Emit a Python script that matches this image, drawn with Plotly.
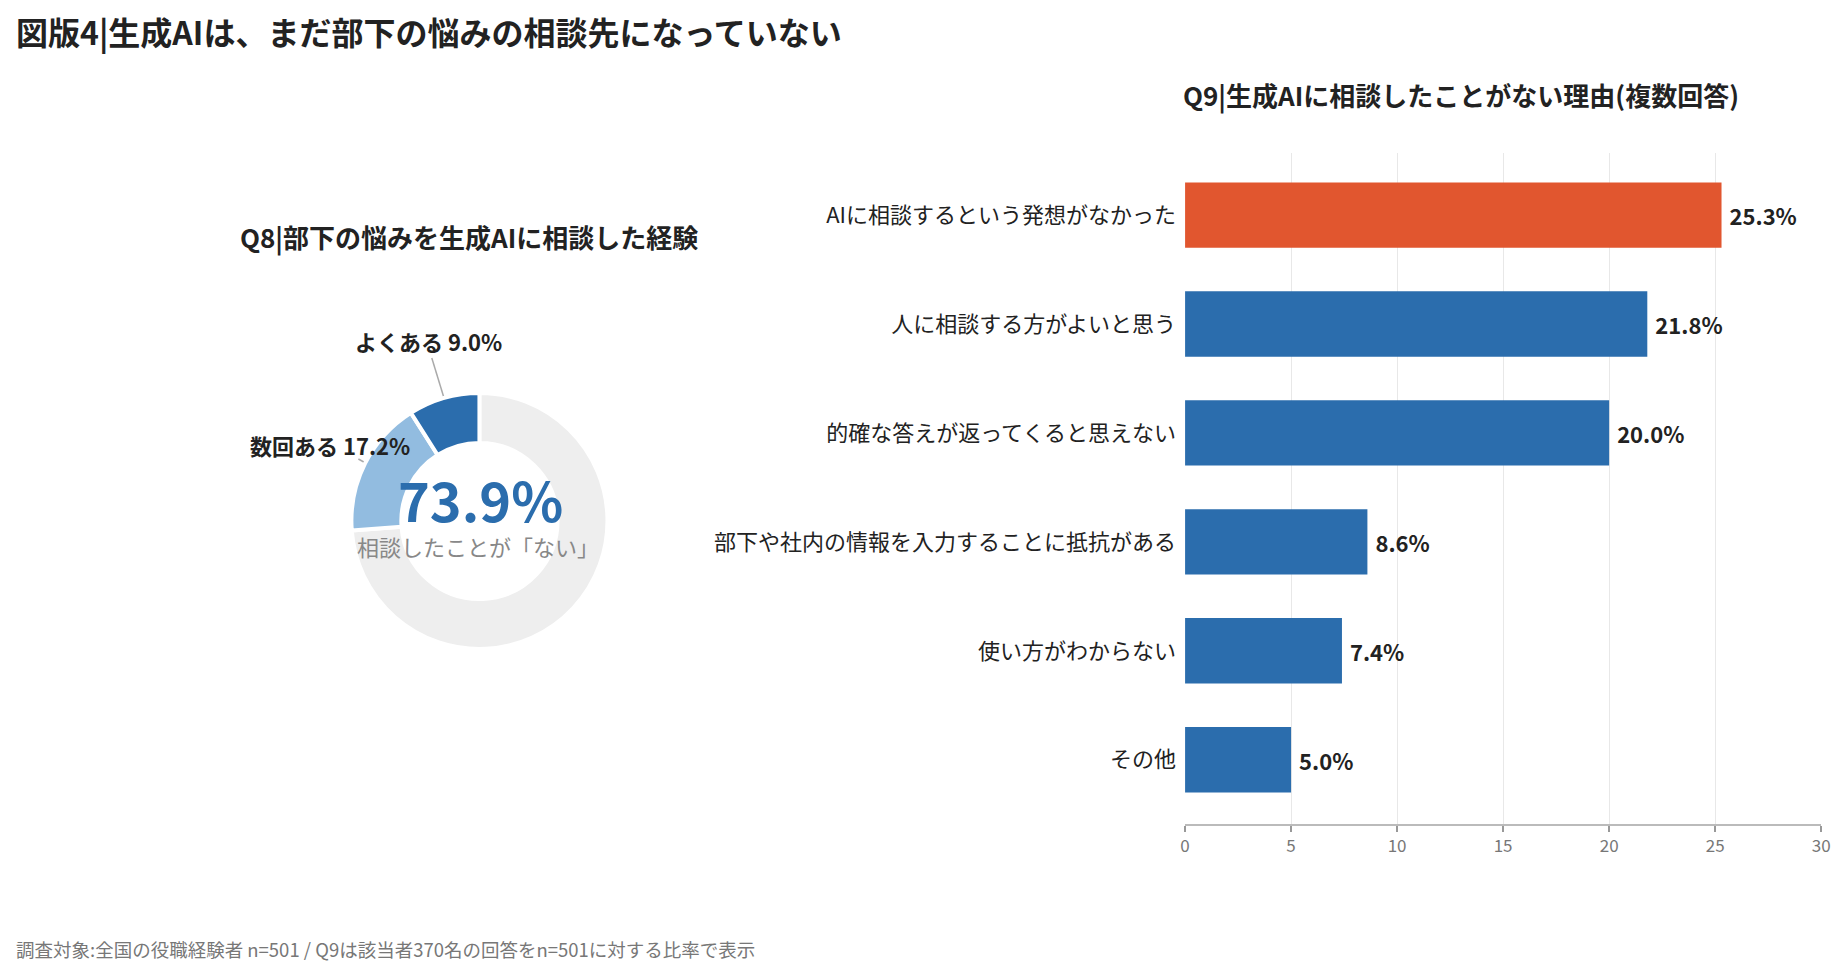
import plotly.graph_objects as go

W, H = 1846, 974
FONT = "Noto Sans CJK JP"
OFF = 8  # page body margin that the html adds

# Q8 donut
q8_labels = ["よくある", "数回ある", "ない"]
q8_values = [9.0, 17.2, 73.9]
q8_colors = ["#2B6DAD", "#92BCE0", "#EEEEEE"]

# Q9 bars (top to bottom)
q9_labels = ["AIに相談するという発想がなかった", "人に相談する方がよいと思う",
             "的確な答えが返ってくると思えない", "部下や社内の情報を入力することに抵抗がある",
             "使い方がわからない", "その他"]
q9_values = [25.3, 21.8, 20.0, 8.6, 7.4, 5.0]
q9_colors = ["#E1562F", "#2B6DAD", "#2B6DAD", "#2B6DAD", "#2B6DAD", "#2B6DAD"]
x_ticks = [0, 5, 10, 15, 20, 25, 30]


def px_x(x):
    return (x - OFF) / W


def px_y(y):
    return 1 - (y - OFF) / H


fig = go.Figure()

# donut in screen pixels
cx, cy, r = 478, 521, 129
fig.add_trace(go.Pie(
    labels=q8_labels[::-1], values=q8_values[::-1], hole=0.61, sort=False,
    direction="clockwise", rotation=0,
    marker=dict(colors=q8_colors[::-1], line=dict(color="white", width=4)),
    textinfo="none", hoverinfo="label+value", showlegend=False,
    domain=dict(x=[px_x(cx - r), px_x(cx + r)], y=[px_y(cy + r), px_y(cy - r)]),
))

fig.add_trace(go.Bar(
    x=q9_values, y=q9_labels, orientation="h", width=0.6,
    marker=dict(color=q9_colors, line=dict(width=0)),
    text=[f" {v:.1f}%" for v in q9_values], textposition="outside",
    textfont=dict(family=FONT, size=22, color="#222222", weight=700),
    cliponaxis=False, showlegend=False, xaxis="x", yaxis="y",
))

fig.update_layout(
    width=W, height=H,
    margin=dict(l=0, r=0, t=0, b=0),
    paper_bgcolor="white", plot_bgcolor="white",
    font=dict(family=FONT, color="#222222"),
    xaxis=dict(
        domain=[px_x(1189), px_x(1830)], range=[0, 30],
        tickvals=x_ticks, showgrid=True, gridcolor="#E8E8E8", gridwidth=1,
        zeroline=False, showline=True, linecolor="#BBBBBB", linewidth=2,
        ticks="outside", ticklen=6, tickcolor="#999999", tickwidth=1.5,
        tickfont=dict(family=FONT, size=17, color="#777777"),
        fixedrange=True,
    ),
    yaxis=dict(
        domain=[px_y(824), px_y(153)], type="category",
        categoryorder="array", categoryarray=q9_labels,
        range=[5.59, -0.57], showgrid=False, zeroline=False, showline=False,
        ticks="", ticklabelstandoff=8,
        tickfont=dict(family=FONT, size=22, color="#222222"),
        fixedrange=True,
    ),
    bargap=0.4,
)

anns = [
    dict(text="図版4|生成AIは、まだ部下の悩みの相談先になっていない",
         x=px_x(9), y=px_y(31), xanchor="left", yanchor="middle",
         font=dict(size=32, color="#222222", weight=700)),
    dict(text="Q9|生成AIに相談したことがない理由(複数回答)",
         x=px_x(1185), y=px_y(95), xanchor="left", yanchor="middle",
         font=dict(size=26, color="#222222", weight=700)),
    dict(text="Q8|部下の悩みを生成AIに相談した経験",
         x=px_x(467), y=px_y(237), xanchor="center", yanchor="middle",
         font=dict(size=26, color="#222222", weight=700)),
    dict(text=f"{q8_values[2]:.1f}%",
         x=px_x(479), y=px_y(499), xanchor="center", yanchor="middle",
         font=dict(size=54, color="#2B6DAD", weight=700)),
    dict(text="相談したことが「ない」",
         x=px_x(477), y=px_y(546), xanchor="center", yanchor="middle",
         font=dict(size=22, color="#888888")),
    dict(text=f"{q8_labels[0]} {q8_values[0]:.1f}%",
         x=px_x(427), y=px_y(341), xanchor="center", yanchor="middle",
         font=dict(size=22, color="#222222", weight=700)),
    dict(text=f"{q8_labels[1]} {q8_values[1]:.1f}%",
         x=px_x(327), y=px_y(445), xanchor="center", yanchor="middle",
         font=dict(size=22, color="#222222", weight=700)),
    dict(text="調査対象:全国の役職経験者 n=501 / Q9は該当者370名の回答をn=501に対する比率で表示",
         x=px_x(9), y=px_y(949), xanchor="left", yanchor="middle",
         font=dict(size=18.5, color="#777777")),
]
for a in anns:
    a.update(xref="paper", yref="paper", showarrow=False)
fig.update_layout(annotations=anns)

# leader lines for donut labels
leaders = [((430, 358), (446, 410)), ((356, 459), (376, 470))]
for (x0, y0), (x1, y1) in leaders:
    fig.add_shape(type="line", xref="paper", yref="paper",
                  x0=px_x(x0), y0=px_y(y0), x1=px_x(x1), y1=px_y(y1),
                  line=dict(color="#AAAAAA", width=1.5), layer="below")

fig.write_html("out.html")
